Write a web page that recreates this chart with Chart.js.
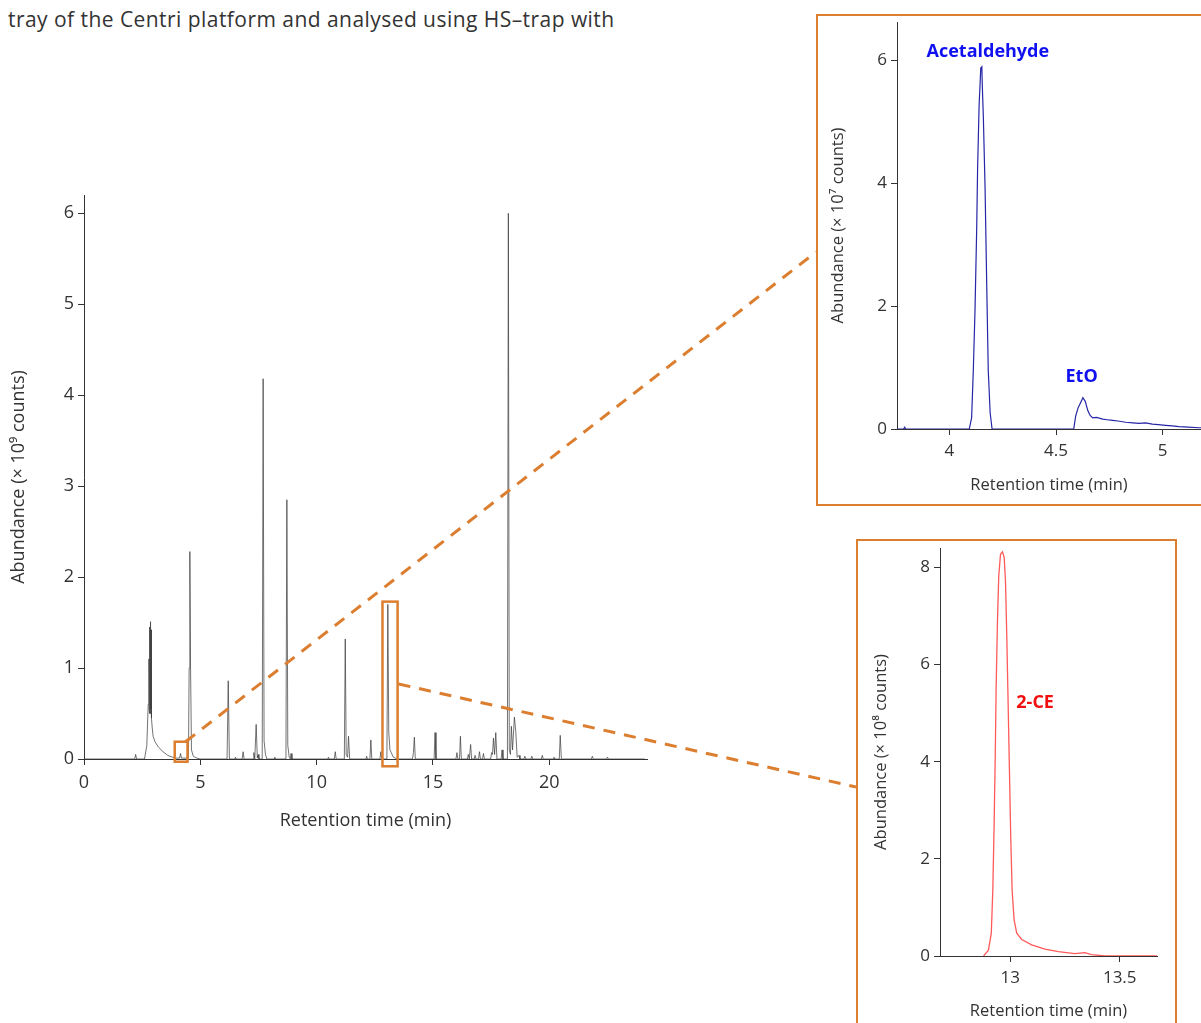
<!DOCTYPE html>
<html>
<head>
<meta charset="utf-8">
<script src="https://cdn.jsdelivr.net/npm/chart.js@4.4.1/dist/chart.umd.min.js"></script>
<style>
  html, body { margin:0; padding:0; background:#fff; overflow:hidden; width:1201px; height:1023px; }
  #caption { position:absolute; left:8px; top:5px; font-family:"Open Sans", "Liberation Sans", sans-serif; font-size:21px; letter-spacing:0.45px; color:#333; white-space:nowrap; }
  canvas { position:absolute; }
  .frame { position:absolute; border:2.5px solid #DC7E2F; box-sizing:border-box; }
</style>
</head>
<body>
<div id="caption">tray of the Centri platform and analysed using HS–trap with</div>
<div class="frame" style="left:816px; top:14px; width:420px; height:492px;"></div>
<div class="frame" style="left:856px; top:539px; width:321px; height:520px;"></div>
<canvas id="main" width="660" height="660" style="left:0px; top:185px;"></canvas>
<canvas id="ins1" width="382" height="486" style="left:819px; top:17px;"></canvas>
<canvas id="ins2" width="315" height="481" style="left:859px; top:542px;"></canvas>
<canvas id="overlay" width="1201" height="1023" style="left:0; top:0; pointer-events:none;"></canvas>
<script>
// ---------- DATA ----------
// Main total-ion chromatogram (retention time in min, abundance in 1e9 counts)
const mainTime = [0, 2.18, 2.22, 2.26, 2.6, 2.7, 2.76, 2.79, 2.8, 2.81, 2.82, 2.83, 2.84, 2.85, 2.86, 2.87, 2.88, 2.89, 2.9, 2.91, 2.93, 2.97, 3.05, 3.2, 3.4, 3.6, 3.8, 4.0, 4.11, 4.15, 4.19, 4.49, 4.52, 4.55, 4.58, 4.62, 4.7, 4.85, 5.0,
  6.15, 6.2, 6.25, 6.48, 6.51, 6.54, 6.8, 6.84, 6.88, 7.27, 7.3, 7.34, 7.4, 7.45, 7.48, 7.52, 7.66, 7.7, 7.74, 7.8, 7.86, 8.18, 8.2, 8.22, 8.68, 8.72, 8.76, 8.82, 8.87, 8.9, 8.94,
  10.48, 10.51, 10.54, 10.76, 10.8, 10.84, 11.19, 11.23, 11.27, 11.33, 11.37, 11.42, 12.12, 12.15, 12.18, 12.29, 12.33, 12.37, 12.72, 12.76, 12.8, 13.02, 13.06, 13.1, 13.15, 13.3, 13.45,
  14.12, 14.16, 14.2, 14.24, 15.05, 15.09, 15.13, 15.99, 16.03, 16.07, 16.14, 16.18, 16.22, 16.48, 16.52, 16.56, 16.59, 16.62, 16.66, 16.77, 16.81, 16.85, 16.96, 17.0, 17.04, 17.13, 17.17, 17.21, 17.48, 17.52, 17.56, 17.6, 17.65, 17.7, 17.75,
  17.93, 17.97, 18.01, 18.2, 18.24, 18.28, 18.33, 18.37, 18.42, 18.5, 18.56, 18.62, 18.7, 18.74, 18.91, 18.95, 18.99, 19.21, 19.25, 19.29, 19.66, 19.7, 19.74, 20.16, 20.2, 20.24, 20.43, 20.47, 20.52, 21.81, 21.85, 21.89, 22.46, 22.5, 22.54, 24.1];
const mainAbund = [0, 0, 0.05, 0, 0, 0.15, 0.6, 1.1, 0.55, 1.3, 0.5, 1.45, 0.5, 1.48, 1.51, 0.55, 1.42, 0.5, 1.25, 0.45, 0.35, 0.25, 0.19, 0.13, 0.08, 0.04, 0.02, 0.01, 0.01, 0.06, 0.01, 0.01, 1.0, 2.28, 1.0, 0.1, 0.03, 0.01, 0,
  0, 0.86, 0, 0, 0.02, 0, 0, 0.08, 0, 0, 0.07, 0, 0.38, 0.01, 0.05, 0, 0, 4.18, 0.2, 0.05, 0, 0, 0.02, 0, 0, 2.85, 0.15, 0.02, 0, 0.06, 0,
  0, 0.02, 0, 0, 0.08, 0, 0, 1.32, 0.05, 0.02, 0.25, 0, 0, 0.03, 0, 0, 0.21, 0, 0, 0.08, 0, 0, 1.7, 0.3, 0.1, 0.02, 0,
  0, 0.07, 0.24, 0, 0, 0.29, 0, 0, 0.07, 0, 0, 0.25, 0, 0, 0.05, 0, 0, 0.16, 0, 0, 0.04, 0, 0, 0.08, 0, 0, 0.06, 0, 0, 0.07, 0.05, 0.23, 0.05, 0.29, 0,
  0, 0.1, 0, 0, 6.0, 0.1, 0.05, 0.36, 0.1, 0.46, 0.3, 0.02, 0.04, 0, 0, 0.03, 0, 0, 0.03, 0, 0, 0.04, 0, 0, 0.02, 0, 0, 0.26, 0, 0, 0.03, 0, 0, 0.02, 0, 0];

// Inset 1: acetaldehyde / EtO (abundance in 1e7 counts)
const ins1Time = [3.754, 3.785, 3.79, 3.795, 4.093, 4.104, 4.112, 4.12, 4.128, 4.132, 4.139, 4.147, 4.152, 4.154, 4.159, 4.167, 4.175, 4.182, 4.191, 4.2, 4.583, 4.592, 4.603, 4.614, 4.626, 4.637, 4.649, 4.66, 4.672, 4.69, 4.719, 4.74, 4.765, 4.79, 4.827, 4.86, 4.889, 4.92, 4.952, 4.98, 5.014, 5.045, 5.076, 5.12, 5.17, 5.18];
const ins1Abund = [0, 0, 0.03, 0, 0, 0.18, 0.96, 1.94, 3.29, 4.22, 5.25, 5.87, 5.89, 5.6, 5.08, 3.94, 2.32, 0.96, 0.26, 0, 0, 0.21, 0.34, 0.42, 0.51, 0.45, 0.3, 0.22, 0.18, 0.19, 0.16, 0.15, 0.14, 0.13, 0.11, 0.1, 0.09, 0.1, 0.08, 0.07, 0.06, 0.05, 0.04, 0.03, 0.02, 0.02];

// Inset 2: 2-CE (abundance in 1e8 counts)
const ins2Time = [12.879, 12.901, 12.914, 12.921, 12.927, 12.932, 12.936, 12.942, 12.948, 12.956, 12.965, 12.973, 12.979, 12.985, 12.991, 12.997, 13.003, 13.009, 13.018, 13.03, 13.053, 13.098, 13.159, 13.22, 13.295, 13.341, 13.371, 13.432, 13.67];
const ins2Abund = [0, 0.12, 0.47, 1.36, 2.73, 4.1, 5.48, 6.86, 7.82, 8.27, 8.32, 8.2, 7.69, 6.52, 5.15, 3.77, 2.4, 1.36, 0.75, 0.47, 0.34, 0.23, 0.14, 0.09, 0.05, 0.07, 0.03, 0, 0];

const mainTicksX = 5, mainTicksY = 1;
const peakLabels1 = [{text: 'Acetaldehyde', x: 4.18, y: 6.13}, {text: 'EtO', x: 4.62, y: 0.84}];
const peakLabels2 = [{text: '2-CE', x: 13.114, y: 5.21}];
// zoom regions on main chart [xmin, xmax, ymin, ymax]
const zoomBox1 = [3.9, 4.45, -0.03, 0.19];
const zoomBox2 = [12.83, 13.48, -0.08, 1.73];

// ---------- HELPERS ----------
const FONT = '"Open Sans", "Liberation Sans", sans-serif';
const ORANGE = '#DC7E2F';
const pts = (t, v) => t.map((x, i) => ({x: x, y: v[i]}));
const fmt = v => String(Math.round(v * 100) / 100);

function axes(o) {
  const common = {
    grid: {drawOnChartArea: false, drawTicks: true, tickLength: 6, color: '#333', lineWidth: 1},
    border: {display: true, color: '#333', width: 1},
  };
  return {
    x: Object.assign({}, common, {
      type: 'linear', min: o.xmin, max: o.xmax,
      ticks: {stepSize: o.xstep, includeBounds: false, color: '#333', font: {family: FONT, size: o.tick}, padding: o.xtp, maxRotation: 0, callback: fmt},
      title: {display: true, text: o.xtitle, color: '#333', font: {family: FONT, size: o.title}, padding: {top: 0, bottom: o.xtitlePad}},
      afterFit(s) { s.height = o.xh; s.paddingLeft = 0; s.paddingRight = 0; }
    }),
    y: Object.assign({}, common, {
      type: 'linear', min: o.ymin, max: o.ymax,
      ticks: {stepSize: o.ystep, includeBounds: false, color: '#333', font: {family: FONT, size: o.tick}, padding: 4, callback: fmt},
      title: {display: true, text: o.ytitle, color: '#333', font: {family: FONT, size: o.title}, padding: {top: o.ytitlePad, bottom: 0}},
      afterFit(s) { s.width = o.yw; s.paddingTop = 0; s.paddingBottom = 0; }
    })
  };
}

const labelPlugin = (labels, color) => ({
  id: 'peakLabels',
  afterDatasetsDraw(chart) {
    const c = chart.ctx, sx = chart.scales.x, sy = chart.scales.y;
    c.save();
    c.fillStyle = color;
    c.font = 'bold 18px ' + FONT;
    c.textAlign = 'center';
    c.textBaseline = 'middle';
    labels.forEach(l => c.fillText(l.text, sx.getPixelForValue(l.x), sy.getPixelForValue(l.y)));
    c.restore();
  }
});

// ---------- CHARTS ----------
const mainChart = new Chart(document.getElementById('main'), {
  type: 'scatter',
  data: {datasets: [{data: pts(mainTime, mainAbund), showLine: true, borderColor: 'rgba(60,60,60,0.9)', borderWidth: 0.8, pointRadius: 0, tension: 0}]},
  options: {
    responsive: false, animation: false, events: [],
    layout: {padding: {top: 10, right: 13, left: 0, bottom: 0}},
    plugins: {legend: {display: false}, tooltip: {enabled: false}},
    scales: axes({xmin: 0, xmax: 24.2, xstep: mainTicksX, ymin: 0, ymax: 6.2, ystep: mainTicksY,
      xtitle: 'Retention time (min)', ytitle: 'Abundance (× 10⁹ counts)',
      yw: 84, xh: 86, tick: 18, title: 18, xtp: 7, xtitlePad: 13, ytitlePad: 8})
  }
});

const ins1 = new Chart(document.getElementById('ins1'), {
  type: 'scatter',
  data: {datasets: [{data: pts(ins1Time, ins1Abund), showLine: true, borderColor: '#2626A6', borderWidth: 1.2, pointRadius: 0, tension: 0}]},
  options: {
    responsive: false, animation: false, events: [],
    layout: {padding: {top: 5, right: 0, left: 0, bottom: 0}},
    plugins: {legend: {display: false}, tooltip: {enabled: false}},
    scales: axes({xmin: 3.754, xmax: 5.18, xstep: 0.5, ymin: 0, ymax: 6.62, ystep: 2,
      xtitle: 'Retention time (min)', ytitle: 'Abundance (× 10⁷ counts)',
      yw: 78, xh: 74, tick: 17, title: 16.5, xtp: 6, xtitlePad: 8, ytitlePad: 9})
  },
  plugins: [labelPlugin(peakLabels1, '#1010F0')]
});

const ins2 = new Chart(document.getElementById('ins2'), {
  type: 'scatter',
  data: {datasets: [{data: pts(ins2Time, ins2Abund), showLine: true, borderColor: '#FF5A5A', borderWidth: 1.3, pointRadius: 0, tension: 0}]},
  options: {
    responsive: false, animation: false, events: [],
    layout: {padding: {top: 6, right: 17, left: 0, bottom: 0}},
    plugins: {legend: {display: false}, tooltip: {enabled: false}},
    scales: axes({xmin: 12.68, xmax: 13.67, xstep: 0.5, ymin: 0, ymax: 8.4, ystep: 2,
      xtitle: 'Retention time (min)', ytitle: 'Abundance (× 10⁸ counts)',
      yw: 81, xh: 67, tick: 17, title: 16.5, xtp: 6, xtitlePad: 2, ytitlePad: 12})
  },
  plugins: [labelPlugin(peakLabels2, '#F01010')]
});

// ---------- OVERLAY: zoom boxes and dashed connectors ----------
(function drawOverlay() {
  const ov = document.getElementById('overlay').getContext('2d');
  const mainCanvas = document.getElementById('main');
  const ox = mainCanvas.offsetLeft, oy = mainCanvas.offsetTop;
  const sx = mainChart.scales.x, sy = mainChart.scales.y;
  const px = v => ox + sx.getPixelForValue(v);
  const py = v => oy + sy.getPixelForValue(v);
  ov.strokeStyle = ORANGE;
  ov.lineWidth = 2.5;
  [zoomBox1, zoomBox2].forEach(b => {
    ov.strokeRect(px(b[0]), py(b[3]), px(b[1]) - px(b[0]), py(b[2]) - py(b[3]));
  });
  ov.lineWidth = 3;
  ov.setLineDash([12, 9]);
  const f1 = document.querySelectorAll('.frame')[0], f2 = document.querySelectorAll('.frame')[1];
  ov.beginPath();
  ov.moveTo(px(zoomBox1[1]) - 2, py(zoomBox1[3]));
  ov.lineTo(f1.offsetLeft, 252);
  ov.stroke();
  ov.beginPath();
  ov.moveTo(px(zoomBox2[1]) + 1, py((zoomBox2[2] + zoomBox2[3]) / 2));
  ov.lineTo(f2.offsetLeft, 787);
  ov.stroke();
})();
</script>
</body>
</html>
